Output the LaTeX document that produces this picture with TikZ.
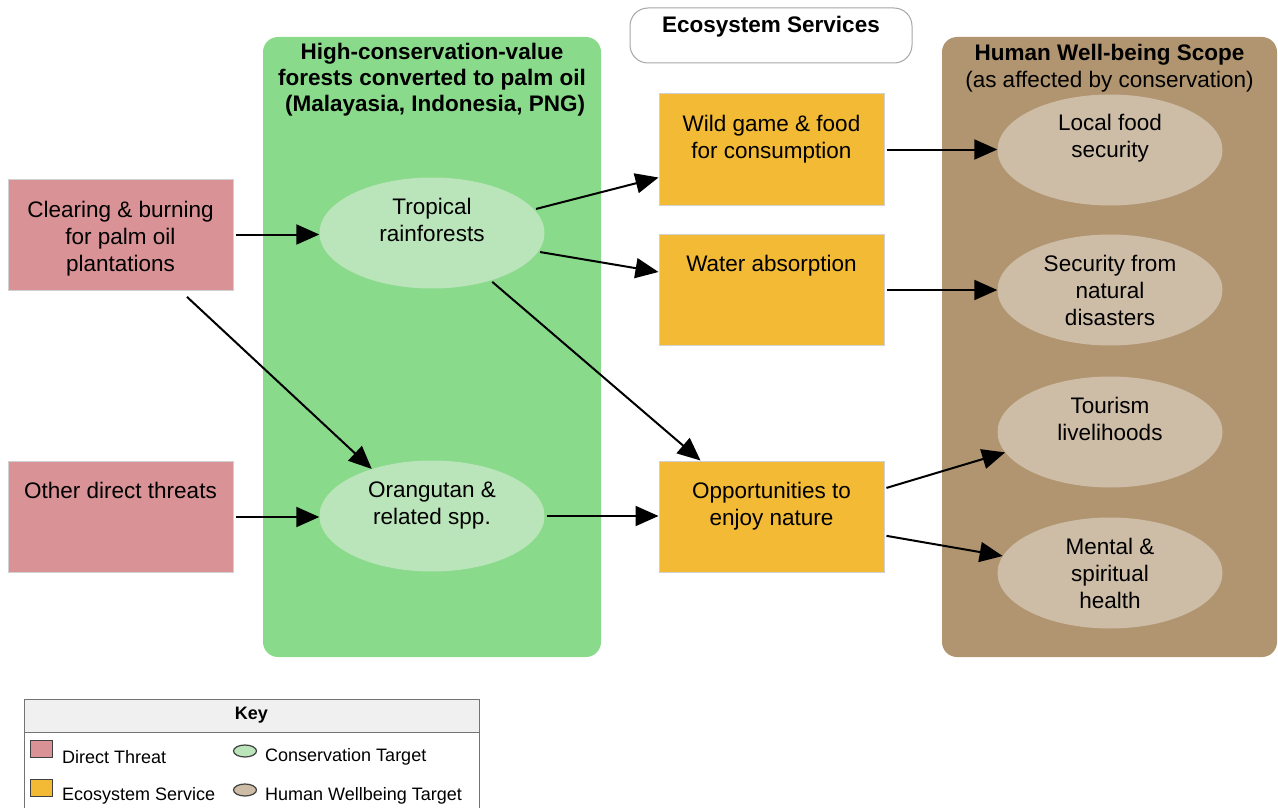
\documentclass[tikz,border=0pt]{standalone}
\usepackage{fontspec}
\setmainfont{Liberation Sans}
\usetikzlibrary{shapes.geometric,arrows.meta,calc}
\definecolor{threatred}{RGB}{217,146,150}
\definecolor{panelgreen}{RGB}{138,218,139}
\definecolor{targetgreen}{RGB}{186,229,186}
\definecolor{esyellow}{RGB}{242,186,53}
\definecolor{panelbrown}{RGB}{176,149,112}
\definecolor{targetbrown}{RGB}{205,188,166}
\tikzset{
  bigfont/.style={font=\fontsize{22.5}{27}\selectfont},
  lbl/.style={bigfont, align=center, inner sep=0pt, anchor=north},
  ttl/.style={font=\fontsize{22.5}{26}\selectfont\bfseries, align=center, inner sep=0pt, anchor=north},
  threatbox/.style={rectangle, fill=threatred, draw=black!18, line width=1pt, minimum width=225pt, minimum height=111pt, inner sep=0pt},
  esbox/.style={rectangle, fill=esyellow, draw=black!18, line width=1pt, minimum width=225pt, minimum height=111pt, inner sep=0pt},
  ctarget/.style={ellipse, fill=targetgreen, minimum width=225pt, minimum height=111pt, inner sep=0pt},
  htarget/.style={ellipse, fill=targetbrown, minimum width=225pt, minimum height=111pt, inner sep=0pt},
  link/.style={line width=2pt, -{Triangle[length=23pt,width=20pt]}, shorten <=2pt},
  keytxt/.style={font=\fontsize{18}{21}\selectfont, inner sep=0pt, anchor=west},
}
\begin{document}
\begin{tikzpicture}[x=1pt,y=-1pt]
\useasboundingbox (0,0) rectangle (1278,808);

% panels
\node[rectangle, rounded corners=15pt, fill=panelgreen, minimum width=338pt, minimum height=620pt, inner sep=0pt] (gpanel) at (432,347) {};
\node[rectangle, rounded corners=15pt, fill=panelbrown, minimum width=335pt, minimum height=620pt, inner sep=0pt] (bpanel) at (1109.5,347) {};
\node[rectangle, rounded corners=18pt, fill=white, draw=black!35, line width=1pt, minimum width=282pt, minimum height=55pt, inner sep=0pt] (eco) at (771,35.5) {};

\node[ttl] (gtitle) at ([yshift=-6pt]gpanel.north) {High-conservation-value\\forests converted to palm oil\\\ (Malayasia, Indonesia, PNG)};
\node[ttl] (etitle) at ([yshift=-8pt]eco.north) {Ecosystem Services};
\node[lbl] (btitle) at ([yshift=-7pt]bpanel.north) {\textbf{Human Well-being Scope}\\(as affected by conservation)};

% threats
\node[threatbox] (clear) at (120.5,234.5) {};
\node[lbl] at ([yshift=-22pt]clear.north) {Clearing \& burning\\for palm oil\\plantations};
\node[threatbox] (other) at (120.5,517) {};
\node[lbl] at ([yshift=-21pt]other.north) {Other direct threats};

% conservation targets
\node[ctarget] (trop) at (432,233) {};
\node[lbl] at ([yshift=-21pt]trop.north) {Tropical\\rainforests};
\node[ctarget] (orang) at (432,516) {};
\node[lbl] at ([yshift=-21pt]orang.north) {Orangutan \&\\related spp.};

% ecosystem services
\node[esbox] (wild) at (771.5,149.5) {};
\node[lbl] at ([yshift=-21pt]wild.north) {Wild game \& food\\for consumption};
\node[esbox] (water) at (771.5,290) {};
\node[lbl] at ([yshift=-21pt]water.north) {Water absorption};
\node[esbox] (opp) at (771.5,516.5) {};
\node[lbl] at ([yshift=-21pt]opp.north) {Opportunities to\\enjoy nature};

% human wellbeing targets
\node[htarget] (local) at (1110,150) {};
\node[lbl] at ([yshift=-20pt]local.north) {Local food\\security};
\node[htarget] (secur) at (1110,290) {};
\node[lbl] at ([yshift=-21pt]secur.north) {Security from\\natural\\disasters};
\node[htarget] (tour) at (1110,432) {};
\node[lbl] at ([yshift=-21pt]tour.north) {Tourism\\livelihoods};
\node[htarget] (mental) at (1110,573) {};
\node[lbl] at ([yshift=-21pt]mental.north) {Mental \&\\spiritual\\health};

% connectors
\draw[link] (clear.east) -- (clear.east -| trop.west);
\draw[link] ([xshift=65pt,yshift=-5pt]clear.south) -- (orang.142);
\draw[link] (other.east) -- (other.east -| orang.west);
\draw[link] (trop.13) -- ([yshift=-28pt]wild.west);
\draw[link] (trop.-10) -- ([yshift=18pt]water.west);
\draw[link] (trop.-39) -- ([xshift=42pt]opp.north west);
\draw[link] (orang.east) -- (orang.east -| opp.west);
\draw[link] (wild.east) -- (wild.east -| local.west);
\draw[link] (water.east) -- (water.east -| secur.west);
\draw[link] ([yshift=28pt]opp.east) -- (tour.-169);
\draw[link] ([yshift=-19pt]opp.east) -- (mental.171);

% key
\node[rectangle, draw=black!55, line width=1pt, fill=white, minimum width=455pt, minimum height=113pt, inner sep=0pt] (key) at (251.5,755.5) {};
\node[rectangle, draw=black!55, line width=1pt, fill=black!6, minimum width=455pt, minimum height=33pt, inner sep=0pt] (keyhead) at (251.5,715.5) {};
\node[font=\fontsize{18}{21}\selectfont\bfseries, inner sep=0pt] (keytitle) at (keyhead.center) {Key};
\node[rectangle, fill=threatred, draw=black!75, line width=1.2pt, minimum width=22pt, minimum height=17pt, inner sep=0pt] (kred) at (41.5,749) {};
\node[rectangle, fill=esyellow, draw=black!75, line width=1.2pt, minimum width=22pt, minimum height=17pt, inner sep=0pt] (kyel) at (41.5,788) {};
\node[ellipse, fill=targetgreen, draw=black!75, line width=1.2pt, minimum width=23pt, minimum height=12pt, inner sep=0pt] (kgrn) at (245,751) {};
\node[ellipse, fill=targetbrown, draw=black!75, line width=1.2pt, minimum width=23pt, minimum height=12pt, inner sep=0pt] (kbrn) at (245,790) {};
\node[keytxt] (kt1) at (62,757) {Direct Threat};
\node[keytxt] (kt2) at (62,796) {Ecosystem Service};
\node[keytxt] (kt3) at (265,757) {Conservation Target};
\node[keytxt] (kt4) at (265,796) {Human Wellbeing Target};
\end{tikzpicture}
\end{document}
